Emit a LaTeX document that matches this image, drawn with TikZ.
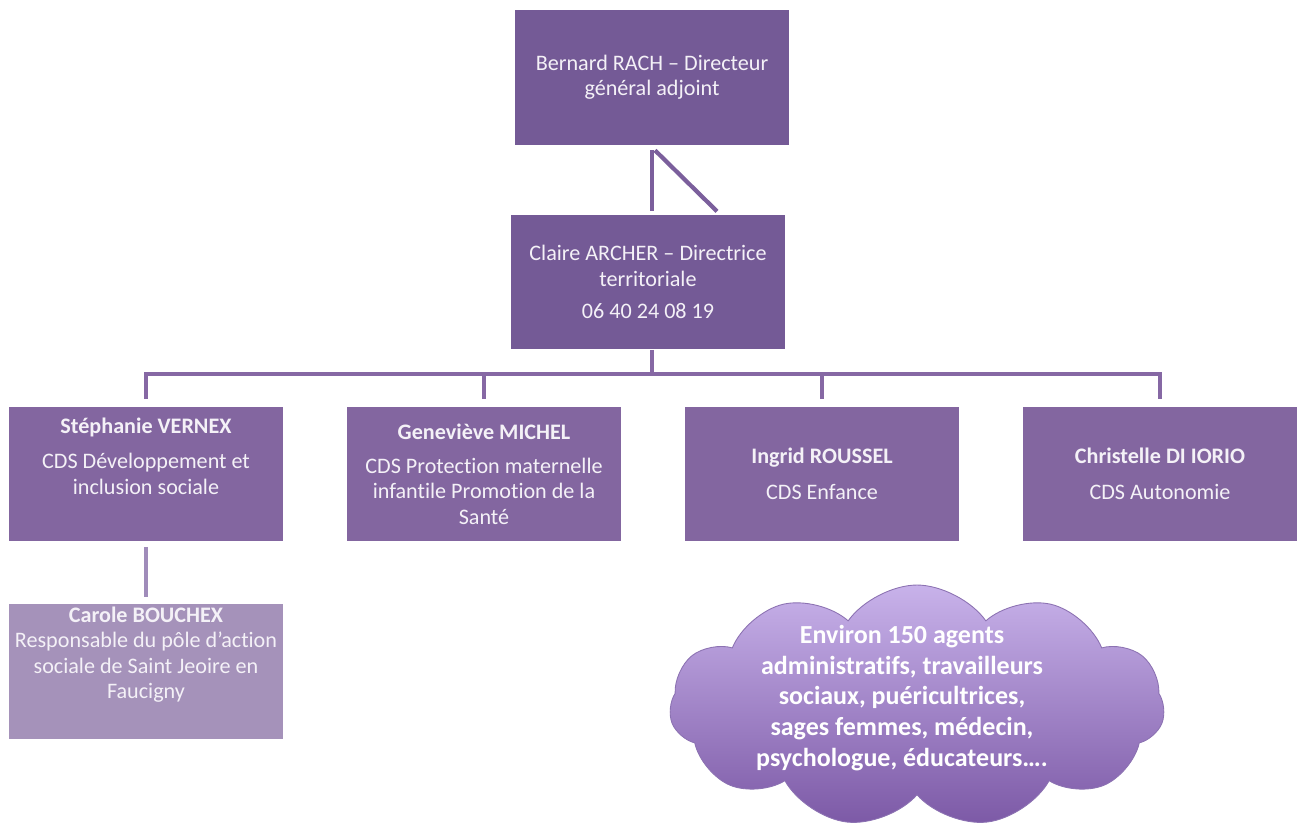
\documentclass[tikz,border=0pt]{standalone}
\usepackage{fontspec}
\setmainfont{Carlito}[Ligatures=NoCommon]
\usetikzlibrary{positioning,calc,shapes.symbols}

\definecolor{topbox}{HTML}{745A96}
\definecolor{subbox}{HTML}{8366A0}
\definecolor{polebox}{HTML}{A592BA}
\definecolor{linkcol}{HTML}{7B5F9C}
\definecolor{barcol}{HTML}{8668A4}
\definecolor{polelink}{HTML}{A08CBA}
\definecolor{cloudtop}{HTML}{C8B2EA}
\definecolor{cloudbot}{HTML}{7C59A6}
\definecolor{cloudedge}{HTML}{8C72B2}
\definecolor{boxtext}{HTML}{F4F1F7}

\tikzset{
  orgbox/.style={rectangle, fill=#1, minimum width=5.48cm, minimum height=2.7cm,
    inner sep=0pt, text=boxtext, align=center, font=\fontsize{12.6}{14.4}\selectfont},
  boxtxt/.style={text=boxtext, align=center, inner sep=0pt, font=\fontsize{12.6}{14.4}\selectfont},
  link/.style={draw=#1, line width=2.4pt, line join=miter},
  cloudtxt/.style={text=white, align=center, inner sep=0pt, font=\fontsize{14.8}{17.6}\selectfont\bfseries}
}

\begin{document}
\begin{tikzpicture}[x=0.02cm, y=-0.02cm]
  \useasboundingbox (0,0) rectangle (1297,827);

  \node[orgbox=topbox] (rach) at (652,77.5) {Bernard RACH -- Directeur\\général adjoint};
  \node[orgbox=topbox] (archer) at (648,282) {Claire ARCHER -- Directrice\\territoriale\\[4pt]06 40 24 08 19};

  \node[orgbox=subbox] (vernex) at (146,474) {};
  \node[boxtxt] (vernexTxt) at (146,456) {\textbf{Stéphanie VERNEX}\\[6pt]CDS Développement et\\inclusion sociale};
  \node[orgbox=subbox] (michel) at (484,474) {\textbf{Geneviève MICHEL}\\[5pt]CDS Protection maternelle\\infantile Promotion de la\\Santé};
  \node[orgbox=subbox] (roussel) at (822,474) {\textbf{Ingrid ROUSSEL}\\[6pt]CDS Enfance};
  \node[orgbox=subbox] (iorio) at (1160,474) {\textbf{Christelle DI IORIO}\\[6pt]CDS Autonomie};

  \node[orgbox=polebox] (carole) at (146,671.5) {};
  \node[boxtxt] (caroleTxt) at (146,654.5) {\textbf{Carole BOUCHEX}\\Responsable du pôle d’action\\sociale de Saint Jeoire en\\Faucigny};

  \node[cloud, cloud puffs=11, cloud puff arc=110, aspect=2, draw=cloudedge, line width=0.5pt,
    top color=cloudtop, bottom color=cloudbot, minimum width=9.9cm, minimum height=4.84cm]
    (agents) at (917,706) {};
  \node[cloudtxt] (agentsTxt) at (902,698) {Environ 150 agents\\administratifs, travailleurs\\sociaux, puéricultrices,\\sages femmes, médecin,\\psychologue, éducateurs….};

  % liens
  \coordinate (kink) at ($(rach.south)+(0,5)$);
  \draw[link=linkcol] (kink) -- ++(0,61);
  \draw[link=linkcol] ($(kink)+(3,0)$) -- ++(62,61);

  \coordinate (bar) at (652,374);
  \draw[link=barcol] (bar |- archer.south) -- (bar);
  \draw[link=barcol] ([yshift=0.14cm]vernex.north) -- (vernex.north |- bar) -- (iorio.north |- bar) -- ([yshift=0.14cm]iorio.north);
  \foreach \n in {michel,roussel}
    \draw[link=barcol] (\n.north |- bar) -- ([yshift=0.14cm]\n.north);

  \draw[link=polelink] ([yshift=-0.1cm]vernex.south) -- ([yshift=0.14cm]carole.north);
\end{tikzpicture}
\end{document}
